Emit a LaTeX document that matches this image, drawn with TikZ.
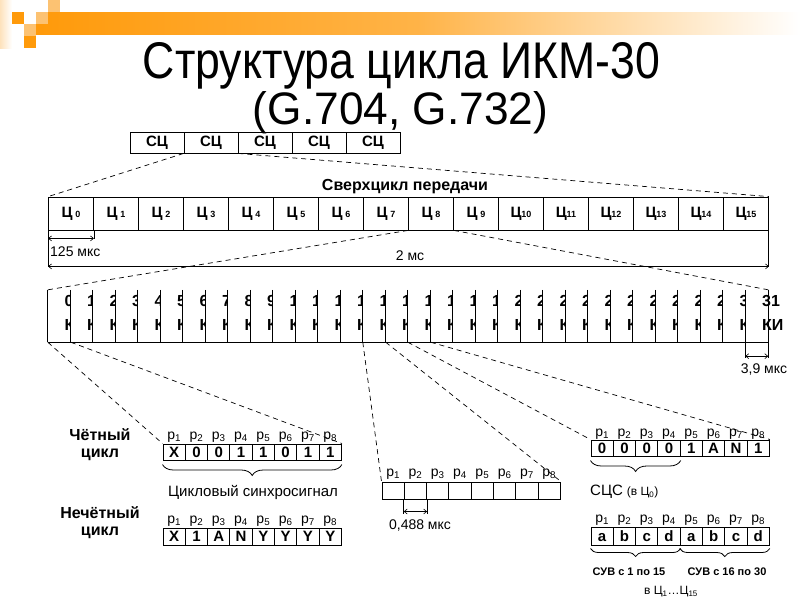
\documentclass[tikz,border=0pt]{standalone}
\usepackage{fontspec}
\setmainfont{Liberation Sans}
\newfontfamily\titlefont[FakeStretch=0.82]{Liberation Sans}
\usetikzlibrary{arrows.meta,decorations.pathreplacing}
\definecolor{deco}{HTML}{FF9A0A}
\definecolor{decolight}{HTML}{FCC272}
\definecolor{decopale}{HTML}{FDE2BC}
\newcommand\fs[1]{\fontsize{#1}{#1}\selectfont}
\newcommand\psub[1]{p\textsubscript{#1}}
\newcommand\cyc[1]{{\bfseries\fs{15}Ц}\ifnum#1<10\hspace{3pt}\fi{\bfseries\fs{9}#1}}
\begin{document}
\begin{tikzpicture}[x=1pt,y=-1pt,
  ln/.style={line width=0.8pt},
  conn/.style={line width=0.7pt,dash pattern=on 5pt off 4pt},
  sfcell/.style={draw,line width=0.9pt,inner sep=0pt,minimum width=54pt,minimum height=21pt,font=\bfseries\fs{15}},
  ccell/.style={draw,line width=0.8pt,inner sep=0pt,minimum width=45pt,minimum height=33pt},
  slot/.style={fill=white,inner sep=0pt,minimum width=22.5pt,minimum height=52pt},
  chtxt/.style={inner sep=0pt,font=\bfseries\fs{16}},
  pcell/.style={draw,line width=1pt,inner sep=0pt,minimum width=22.3pt,text height=10.5pt,text depth=0pt,font=\bfseries\fs{15}},
  plabel/.style={inner sep=0pt,anchor=base,font=\fs{14}},
  lbl/.style={inner sep=0pt,font=\fs{14}},
  blbl/.style={inner sep=0pt,font=\bfseries\fontsize{16}{17}\selectfont,align=center},
  brc/.style={line width=0.8pt,decorate,decoration={brace,mirror,amplitude=#1}},
  dim/.style={line width=0.6pt,{Straight Barb[length=3pt,width=5pt]}-{Straight Barb[length=3pt,width=5pt]}},
]
\fill[white] (0,0) rectangle (800,600);
\useasboundingbox (0,0) rectangle (800,600);
% decoration
\shade[left color=deco,right color=white,middle color=deco!75] (36,12) rectangle (800,34);
\shade[left color=decopale,right color=white] (0,0) rectangle (12,48);
\fill[deco] (12,12) rectangle (24,24);
\fill[decolight] (36,12) rectangle (48,24);
\fill[decolight] (48,0) rectangle (60,12);
\fill[decolight] (24,24) rectangle (36,36);
\fill[deco] (24,36) rectangle (36,48);
% title
\node[anchor=base,inner sep=0pt,font=\titlefont] (title1) at (401.5,78) {\resizebox{517pt}{36pt}{Структура цикла ИКМ-30}};
\node[anchor=base,inner sep=0pt,font=\titlefont] (title2) at (400.5,124) {\resizebox{295pt}{33pt}{(G.704, G.732)}};
% superframe
\foreach \i in {1,...,5} \node[sfcell] (sf\i) at ({130+54*(\i-0.5)},142.5) {СЦ};
\node[inner sep=0pt,font=\bfseries\fs{16}] (sclbl) at (405,187) {Сверхцикл передачи};
% cycle row
\node[draw,ln,inner sep=0pt,minimum width=720pt,minimum height=69pt] (frame) at (408.5,231.5) {};
\foreach \k in {0,...,15} \node[ccell] (c\k) at ({71+45*\k},213.5) {\cyc{\k}};
\draw[ln] (c0.south east) -- ++(0,9);
\draw[dim] ([yshift=-8pt]c0.south west) -- ([yshift=-8pt]c0.south east);
\node[lbl,anchor=west] (t125) at (50,252) {125 мкс};
\node[lbl] (t2ms) at (410,256) {2 мс};
\draw[dim] (frame.south west) -- (frame.south east);
% channel row
\foreach \k in {0,...,31} {
  \node[slot] (s\k) at ({59.25+22.5*\k},316) {};
  \draw[ln] (s\k.north west) -- (s\k.south west);
  \node[chtxt,anchor=base west] (n\k) at ({64.5+22.5*\k},306) {\k};
  \node[chtxt,anchor=base west] (ki\k) at ({64.5+22.5*\k},330) {КИ};
}
\draw[ln] (s0.south west) -- (s31.south east) -- (s31.north east);
\draw[ln] (s31.south west) -- ++(0,16);
\draw[ln] (s31.south east) -- ++(0,16);
\draw[dim] ([yshift=-14pt]s31.south west) -- ([yshift=-14pt]s31.south east);
\node[lbl] (t39) at (764,370) {3,9 мкс};
% even cycle
\foreach \v [count=\i] in {X,0,0,1,1,0,1,1} {
  \node[pcell,minimum height=16pt] (e\i) at ({163+22.3*(\i-0.5)},452) {\v};
  \node[plabel] (ep\i) at ({163+22.3*(\i-0.5)},439) {\psub{\i}};
}
% odd cycle
\foreach \v [count=\i] in {X,1,A,N,Y,Y,Y,Y} {
  \node[pcell,minimum height=17pt] (o\i) at ({163+22.3*(\i-0.5)},536.5) {\v};
  \node[plabel] (op\i) at ({163+22.3*(\i-0.5)},523) {\psub{\i}};
}
% middle (empty) box
\foreach \i in {1,...,8} {
  \node[pcell,minimum height=17pt] (m\i) at ({382+22.3*(\i-0.5)},490.5) {};
  \node[plabel] (mp\i) at ({382+22.3*(\i-0.5)},476) {\psub{\i}};
}
% right top box
\foreach \v [count=\i] in {0,0,0,0,1,A,N,1} {
  \node[pcell,minimum height=16pt] (r\i) at ({591+22.3*(\i-0.5)},448) {\v};
  \node[plabel] (rp\i) at ({591+22.3*(\i-0.5)},436) {\psub{\i}};
}
% right bottom box
\foreach \v [count=\i] in {a,b,c,d,a,b,c,d} {
  \node[pcell,minimum height=18pt] (b\i) at ({591+22.3*(\i-0.5)},536) {\v};
  \node[plabel] (bp\i) at ({591+22.3*(\i-0.5)},522) {\psub{\i}};
}
% labels
\node[blbl] (evenlbl) at (100,445) {Чётный\\цикл};
\node[blbl] (oddlbl) at (100,523) {Нечётный\\цикл};
\draw[brc=11pt] ([yshift=-4pt]e1.south west) -- ([yshift=-4pt]e8.south east);
\node[lbl,font=\fs{15}] (sync) at (253,492) {Цикловый синхросигнал};
\draw[brc=11pt] ([yshift=-4pt]r1.south west) -- ([yshift=-4pt]r4.south east);
\node[lbl,anchor=west] (scs) at (590,492) {{\fs{15}СЦС} {\fs{12}(в Ц\textsubscript{0})}};
\draw[brc=8pt] ([yshift=-3pt]b1.south west) -- ([yshift=-3pt]b4.south east);
\draw[brc=8pt] ([yshift=-3pt]b5.south west) -- ([yshift=-3pt]b8.south east);
\node[lbl,font=\bfseries\fs{11}] (suv1) at (629,572) {СУВ с 1 по 15};
\node[lbl,font=\bfseries\fs{11}] (suv2) at (727,572) {СУВ с 16 по 30};
\node[lbl,font=\fs{12}] (inc) at (671,592) {в Ц\textsubscript{1}…Ц\textsubscript{15}};
% 0,488
\draw[ln] (m2.south west) -- ++(0,14);
\draw[ln] (m2.south east) -- ++(0,14);
\draw[dim] ([yshift=-12pt]m2.south west) -- ([yshift=-12pt]m2.south east);
\node[lbl] (t488) at (420,525) {0,488 мкс};
% connectors
\draw[conn] (sf2.south west) -- (frame.north west);
\draw[conn] (sf2.south east) -- (frame.north east);
\draw[conn] (c8.south west) -- (s0.north west);
\draw[conn] (c8.south east) -- (s31.north east);
\draw[conn] (s0.south west) -- (e1.north west);
\draw[conn] (s0.south east) -- (e8.north east);
\draw[conn] (s14.south west) -- (m1.north west);
\draw[conn] (s14.south east) -- (m8.north east);
\draw[conn] (s16.south west) -- (r1.north west);
\draw[conn] (s16.south east) -- (r8.north east);
\end{tikzpicture}
\end{document}
